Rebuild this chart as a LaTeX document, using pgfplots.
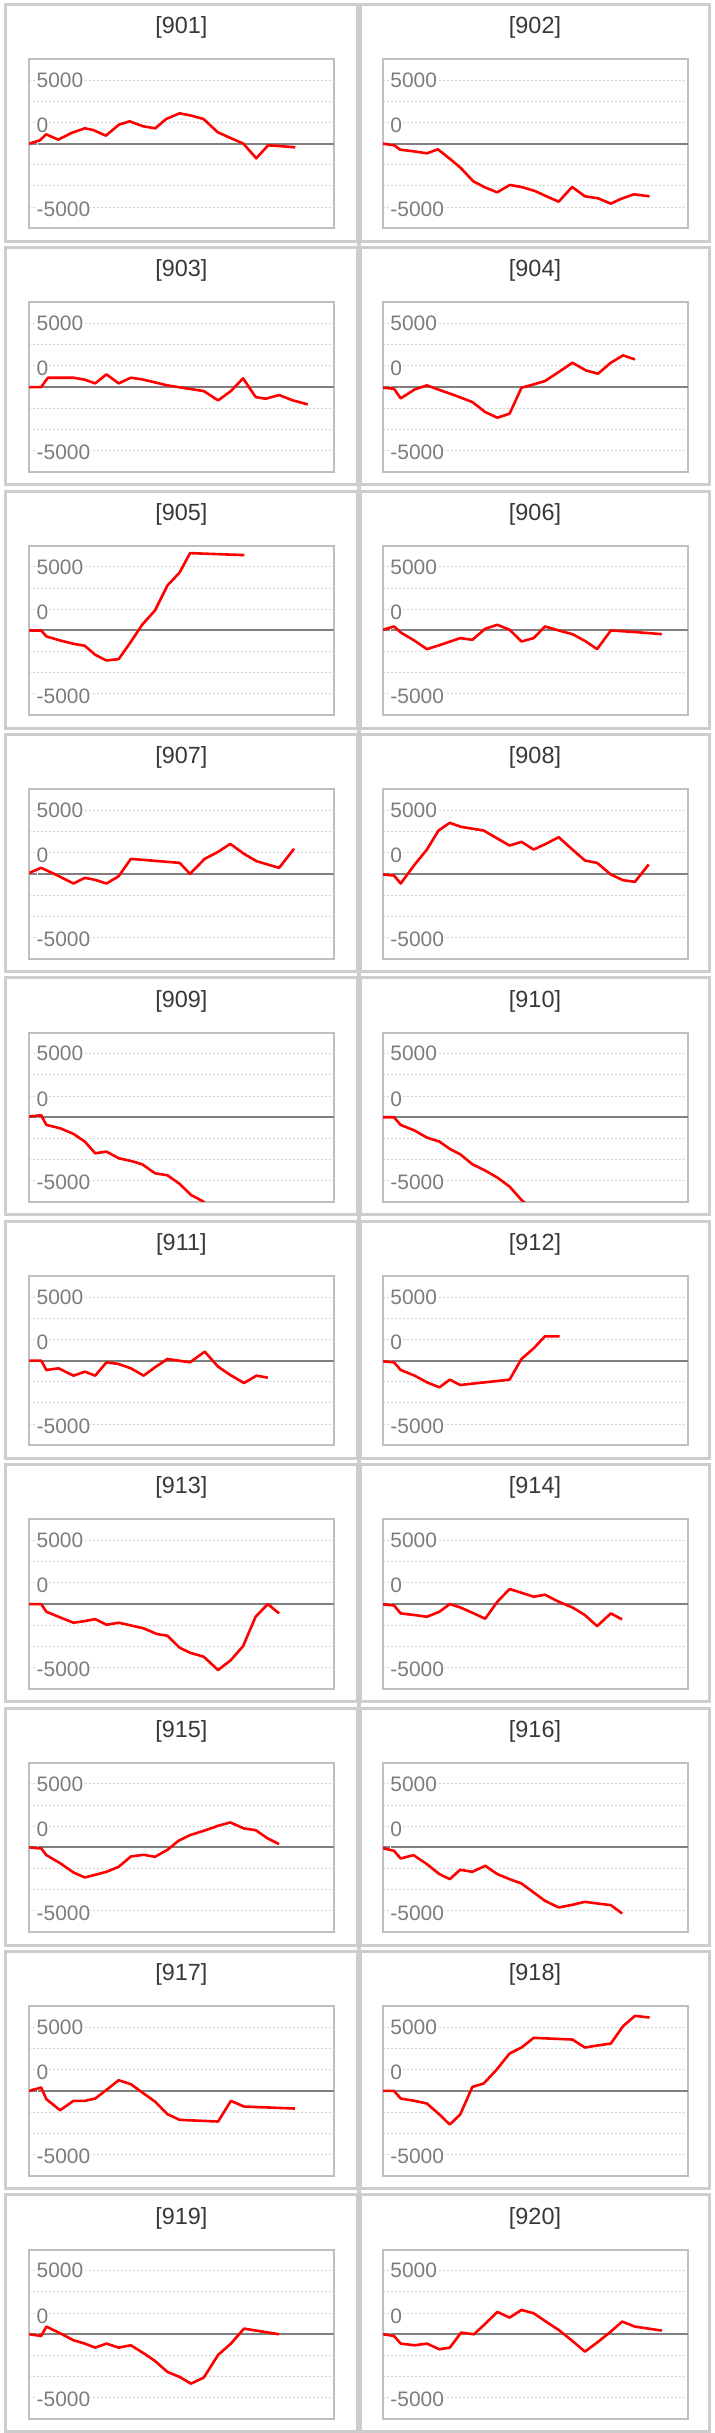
\documentclass[border=0pt]{standalone}
\usepackage{pgfplots}
\pgfplotsset{compat=1.18}
\usepackage{fontspec}
\setmainfont{Liberation Sans}
\definecolor{panelgray}{HTML}{CDCDCD}
\definecolor{boxgray}{HTML}{BFBFBF}
\definecolor{gridgray}{HTML}{D4D4D4}
\definecolor{zerogray}{HTML}{7F7F7F}
\definecolor{labelgray}{HTML}{7C7C7C}
\definecolor{titlecol}{HTML}{383838}
\newcommand{\titlefont}{\fontsize{23.5}{26}\selectfont}
\newcommand{\ticklabelfont}{\fontsize{21}{23}\selectfont}
\pgfplotsset{panelstyle/.style={
  scale only axis, width=305bp, height=169.3bp, anchor=south west,
  xmin=0, xmax=100, ymin=-6666.67, ymax=6666.67,
  xtick=\empty,
  ytick={-5150,1450,5000}, yticklabels={-5000,0,5000},
  major tick length=0pt, minor tick length=0pt,
  minor ytick={-5000,-3333.33,-1666.67,1666.67,3333.33,5000},
  yminorgrids,
  minor grid style={gridgray, line width=1bp, dash pattern=on 2bp off 2bp},
  extra y ticks={0}, extra y tick labels={},
  extra y tick style={ymajorgrids=true, major grid style={zerogray, line width=2bp, solid}},
  axis line style={boxgray, line width=2bp},
  yticklabel style={anchor=west, inner xsep=0pt, inner ysep=1pt, fill=white, xshift=7.2bp, font=\ticklabelfont, text=labelgray},
  clip=true,
}}
\newcommand{\panel}[4]{%
  \pgfmathsetmacro{\pl}{#1==0 ? 5.3 : 360.5}%
  \pgfmathsetmacro{\pr}{#1==0 ? 357.5 : 709.5}%
  \pgfmathsetmacro{\bl}{#1==0 ? 29.3 : 383}%
  \pgfmathsetmacro{\pt}{4.3+243.4*#2}%
  \pgfmathsetmacro{\pb}{\pt+237}%
  \pgfmathsetmacro{\bb}{\pt+224}%
  \pgfmathsetmacro{\tx}{(\pl+\pr)/2}%
  \pgfmathsetmacro{\ty}{\pt+23.2}%
  \draw[panelgray, line width=3bp] (\pl bp,-\pt bp) rectangle (\pr bp,-\pb bp);
  \node[font=\titlefont, text=titlecol] at (\tx bp,-\ty bp) {[#3]};
  \begin{axis}[panelstyle, at={(\bl bp,-\bb bp)}]
    \addplot[red, line width=2.6bp, line join=round] coordinates {#4};
  \end{axis}
}
\begin{document}
\begin{tikzpicture}
\useasboundingbox (0,0) rectangle (715bp,-2433bp);
\fill[white] (0,0) rectangle (715bp,-2433bp);
\draw[panelgray, line width=4bp] (359bp,-2.8bp) -- (359bp,-2433bp);
\panel{0}{0}{901}{(0,0)(3.5,262)(5.5,735)(9.5,315)(13.8,840)(18.2,1208)(20.9,1076)(25.1,630)(29.4,1496)(32.9,1759)(37.3,1365)(41.3,1208)(44.9,1943)(49.3,2389)(53.1,2205)(57.1,1943)(61.8,893)(66.2,420)(70.2,0)(74.4,-1155)(78.3,-131)(83.1,-210)(87.2,-289)}
\panel{1}{0}{902}{(0,0)(3.7,-131)(5.6,-473)(10,-604)(14.4,-761)(18,-446)(22,-1208)(25.5,-1916)(29.6,-2966)(33.4,-3439)(37.4,-3833)(41.6,-3255)(45.4,-3413)(49.8,-3728)(53.6,-4148)(57.6,-4568)(62,-3413)(66.2,-4148)(70.5,-4305)(74.7,-4725)(78.2,-4331)(82.3,-3990)(87.4,-4148)}
\panel{0}{1}{903}{(0,0)(3.9,0)(6.1,735)(14.5,735)(18.2,578)(21.6,289)(25.3,998)(29.3,289)(33.3,735)(37,604)(41.2,368)(45.3,131)(50.1,-53)(57.2,-315)(61.9,-1050)(66.1,-315)(70.1,683)(74.2,-788)(77.5,-919)(81.9,-630)(86.4,-1050)(91.3,-1365)}
\panel{1}{1}{904}{(0,-53)(3.6,-131)(5.8,-893)(10.4,-184)(14.4,131)(18.9,-263)(23.3,-630)(29.3,-1181)(33.5,-1969)(37.5,-2415)(41.5,-2100)(45.4,-53)(49.4,210)(53.1,473)(57.6,1181)(62.1,1916)(66.5,1313)(70.5,1050)(74.7,1916)(78.7,2494)(82.6,2179)}
\panel{0}{2}{905}{(0,0)(3.9,0)(5.6,-473)(10.1,-788)(14.5,-1050)(18.2,-1208)(21.6,-1916)(25.3,-2363)(29.3,-2258)(33,-998)(37,446)(41.2,1575)(45.3,3544)(49.3,4568)(52.7,6090)(70.5,5933)}
\panel{1}{2}{906}{(0,53)(3.6,315)(5.8,-158)(10.4,-814)(14.4,-1470)(18.9,-1129)(25.3,-604)(29.3,-735)(33.5,131)(37.5,446)(41.5,53)(45.4,-866)(49.4,-604)(53.1,315)(57.6,0)(62.1,-289)(66.5,-866)(70.2,-1470)(74.7,0)(82.9,-131)(91.4,-289)}
\panel{0}{3}{907}{(0,79)(3.9,473)(8.6,-53)(14.5,-761)(18.2,-315)(21.6,-473)(25.3,-761)(29.3,-184)(33.3,1181)(49.3,866)(52.7,0)(57.5,1181)(61.9,1733)(65.9,2363)(70.4,1575)(74.5,998)(81.9,473)(86.8,1969)}
\panel{1}{3}{908}{(0,-53)(3.6,-131)(5.8,-761)(10.4,735)(14.4,1916)(18.2,3413)(21.9,4016)(25.6,3701)(33,3413)(37.5,2783)(41.5,2231)(45.4,2520)(49.4,1916)(53.6,2389)(57.6,2888)(62.1,1916)(66.2,1050)(70.2,866)(74.7,-53)(78.7,-499)(82.6,-630)(87.1,735)}
\panel{0}{4}{909}{(0,53)(3.9,158)(5.6,-604)(10.1,-866)(14.5,-1313)(18.2,-1916)(21.6,-2835)(25.3,-2704)(29.3,-3229)(33.3,-3439)(37,-3701)(41.2,-4410)(45.3,-4568)(49.3,-5250)(53,-6116)(56.7,-6589)(60.4,-7300)}
\panel{1}{4}{910}{(0,0)(3.6,0)(5.8,-604)(10.4,-1050)(14.4,-1601)(18.5,-1916)(21.9,-2494)(25.3,-2914)(29.3,-3701)(33.5,-4200)(37.5,-4751)(41.5,-5460)(45.4,-6510)(49.4,-7400)}
\panel{0}{5}{911}{(0,0)(3.9,0)(5.6,-735)(9.6,-604)(14.5,-1181)(18.2,-866)(21.6,-1181)(25.3,-131)(29.3,-263)(33.3,-604)(37.5,-1181)(41.2,-525)(45.3,131)(52.7,-131)(57.5,709)(61.9,-473)(65.9,-1129)(70.4,-1759)(74.5,-1181)(78.2,-1339)}
\panel{1}{5}{912}{(0,-53)(3.6,-131)(5.8,-735)(10.4,-1181)(14.4,-1706)(18.5,-2100)(21.9,-1496)(25.3,-1916)(41.5,-1496)(45.4,131)(49.4,971)(53.1,1916)(57.9,1916)}
\panel{0}{6}{913}{(0,0)(3.9,0)(5.6,-604)(10.1,-1050)(14.5,-1470)(18.2,-1339)(21.6,-1181)(25.3,-1628)(29.3,-1470)(33.3,-1680)(37.5,-1916)(41.9,-2363)(45.3,-2494)(49.3,-3439)(52.7,-3833)(57.2,-4148)(61.9,-5198)(66.1,-4410)(70.1,-3308)(74.2,-998)(78.2,0)(81.9,-735)}
\panel{1}{6}{914}{(0,-26)(3.6,-105)(5.8,-735)(10.4,-866)(14.4,-998)(18.5,-604)(21.9,0)(25.3,-263)(29.3,-683)(33.5,-1155)(37.5,184)(41.5,1181)(45.4,893)(49.4,578)(53.1,735)(57.6,184)(62.1,-263)(66.2,-866)(70.2,-1733)(74.7,-735)(78.4,-1208)}
\panel{0}{7}{915}{(0,0)(3.9,-79)(5.6,-604)(10.1,-1234)(14.5,-1969)(18.2,-2363)(21.6,-2153)(25.3,-1916)(29.3,-1523)(33.3,-709)(37.5,-578)(41.2,-735)(45.3,-184)(48.9,525)(52.7,971)(57.2,1313)(61.9,1706)(65.9,1969)(70.4,1496)(74.2,1365)(78.2,709)(81.9,263)}
\panel{1}{7}{916}{(0,-53)(3.6,-263)(5.8,-866)(10,-604)(14.4,-1313)(18.5,-2100)(21.9,-2494)(25.3,-1759)(29.3,-1916)(33.5,-1444)(37.5,-2100)(41.5,-2494)(45.4,-2835)(49.4,-3544)(53.1,-4200)(57.6,-4725)(62.1,-4515)(66.2,-4279)(70.2,-4410)(74.7,-4541)(78.4,-5198)}
\panel{0}{8}{917}{(0,0)(3.9,263)(5.6,-656)(10.1,-1523)(14.5,-788)(18.2,-788)(21.6,-604)(25.6,131)(29.3,840)(33.3,525)(37.5,-210)(41.2,-840)(45.3,-1838)(49.3,-2284)(61.9,-2415)(66.1,-788)(70.4,-1234)(87.1,-1391)}
\panel{1}{8}{918}{(0,0)(3.6,0)(5.8,-604)(10.4,-788)(14.4,-998)(18.5,-1864)(21.9,-2651)(25.3,-1864)(29.3,315)(33,578)(37.1,1628)(41.5,2940)(45.4,3413)(49.4,4174)(62.1,4043)(66.2,3413)(70.2,3570)(74.7,3728)(78.7,5093)(82.6,5906)(87.4,5775)}
\panel{0}{9}{919}{(0,0)(3.9,-131)(5.6,604)(10.1,79)(14.5,-473)(18.2,-735)(21.6,-1050)(25.3,-735)(29.3,-1050)(33.3,-866)(37.5,-1496)(41.2,-2100)(45.3,-2966)(49.3,-3360)(53,-3885)(57.2,-3413)(61.9,-1628)(66.1,-735)(70.4,446)(81.9,0)}
\panel{1}{9}{920}{(0,0)(3.6,-131)(5.8,-735)(10.4,-866)(14.4,-735)(18.5,-1181)(21.9,-1050)(25.6,131)(29.8,0)(33,709)(37.5,1759)(41.5,1313)(45.4,1916)(49.4,1654)(53.6,971)(57.6,341)(62.1,-525)(66.2,-1365)(70.2,-656)(74.3,131)(78.4,998)(82.6,604)(87.1,446)(91.4,289)}
\end{tikzpicture}
\end{document}
